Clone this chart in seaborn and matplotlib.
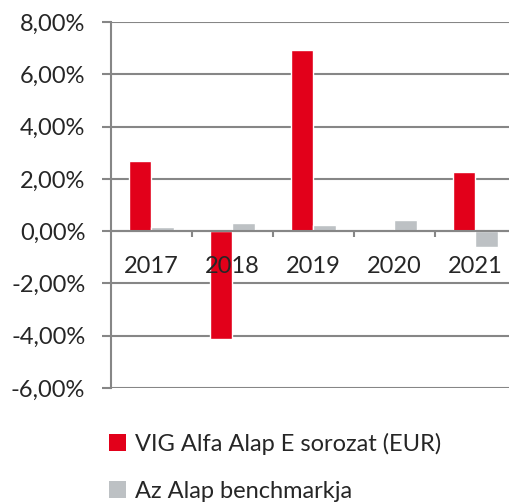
import numpy as np
import pandas as pd
import matplotlib
matplotlib.use('Agg')
import matplotlib.pyplot as plt
import seaborn as sns
from matplotlib.patches import Patch
from matplotlib.ticker import FuncFormatter, FixedLocator

# Data (yearly returns in %)
years = ['2017', '2018', '2019', '2020', '2021']
fund = [2.69, -4.12, 6.92, 0.0, 2.27]
benchmark = [0.15, 0.31, 0.23, 0.42, -0.62]
series_names = ['VIG Alfa Alap E sorozat (EUR)', 'Az Alap benchmarkja']
colors = ['#E2001A', '#BDC1C4']
TEXT = '#262626'
GRID = '#868686'
FS = 17

df = pd.DataFrame({
    'year': years * 2,
    'value': fund + benchmark,
    'series': [series_names[0]] * len(years) + [series_names[1]] * len(years),
})

sns.set_style('white')
plt.rcParams['font.family'] = ['Lato', 'DejaVu Sans']

fig = plt.figure(figsize=(5.1, 5.04), dpi=100)
ax = fig.add_axes([111 / 510, 116 / 504, 405 / 510, 366 / 504])

sns.barplot(data=df, x='year', y='value', hue='series', palette=colors,
            width=0.56, saturation=1, ax=ax, legend=False)

ax.set_xlim(-0.5, 4.5)
ax.set_ylim(-6, 8)
ax.set_yticks(np.arange(-6, 9, 2))
ax.yaxis.set_major_formatter(FuncFormatter(lambda v, p: f'{v:.2f}%'.replace('.', ',')))
ax.yaxis.grid(True, color=GRID, linewidth=1.5)
ax.set_axisbelow(True)
ax.set_xlabel('')
ax.set_ylabel('')

for s in ['top', 'right']:
    ax.spines[s].set_visible(False)
ax.spines['left'].set_color(GRID)
ax.spines['left'].set_linewidth(1.5)
ax.spines['bottom'].set_position(('data', 0))
ax.spines['bottom'].set_color(GRID)
ax.spines['bottom'].set_linewidth(1.5)

ax.tick_params(axis='y', which='major', length=6.5, width=1.5, color=GRID,
               labelsize=FS, labelcolor=TEXT, pad=12, left=True)
ax.tick_params(axis='x', which='major', length=0, labelsize=FS,
               labelcolor=TEXT, pad=18)
ax.xaxis.set_minor_locator(FixedLocator([0.5, 1.5, 2.5, 3.5]))
ax.tick_params(axis='x', which='minor', length=4, width=1.5, color=GRID,
               direction='out', bottom=True)
# year labels sit on top of the bars, as in the original
ax.xaxis.set_zorder(5)

handles = [Patch(facecolor=c, edgecolor='none') for c in colors]
fig.legend(handles, series_names, loc='upper left',
           bbox_to_anchor=(100 / 510, 1 - 423 / 504), frameon=False,
           fontsize=FS, labelcolor=TEXT, handlelength=0.7, handleheight=0.7,
           handletextpad=0.4, labelspacing=1.1, borderaxespad=0)

fig.savefig('out.png', dpi=100)
